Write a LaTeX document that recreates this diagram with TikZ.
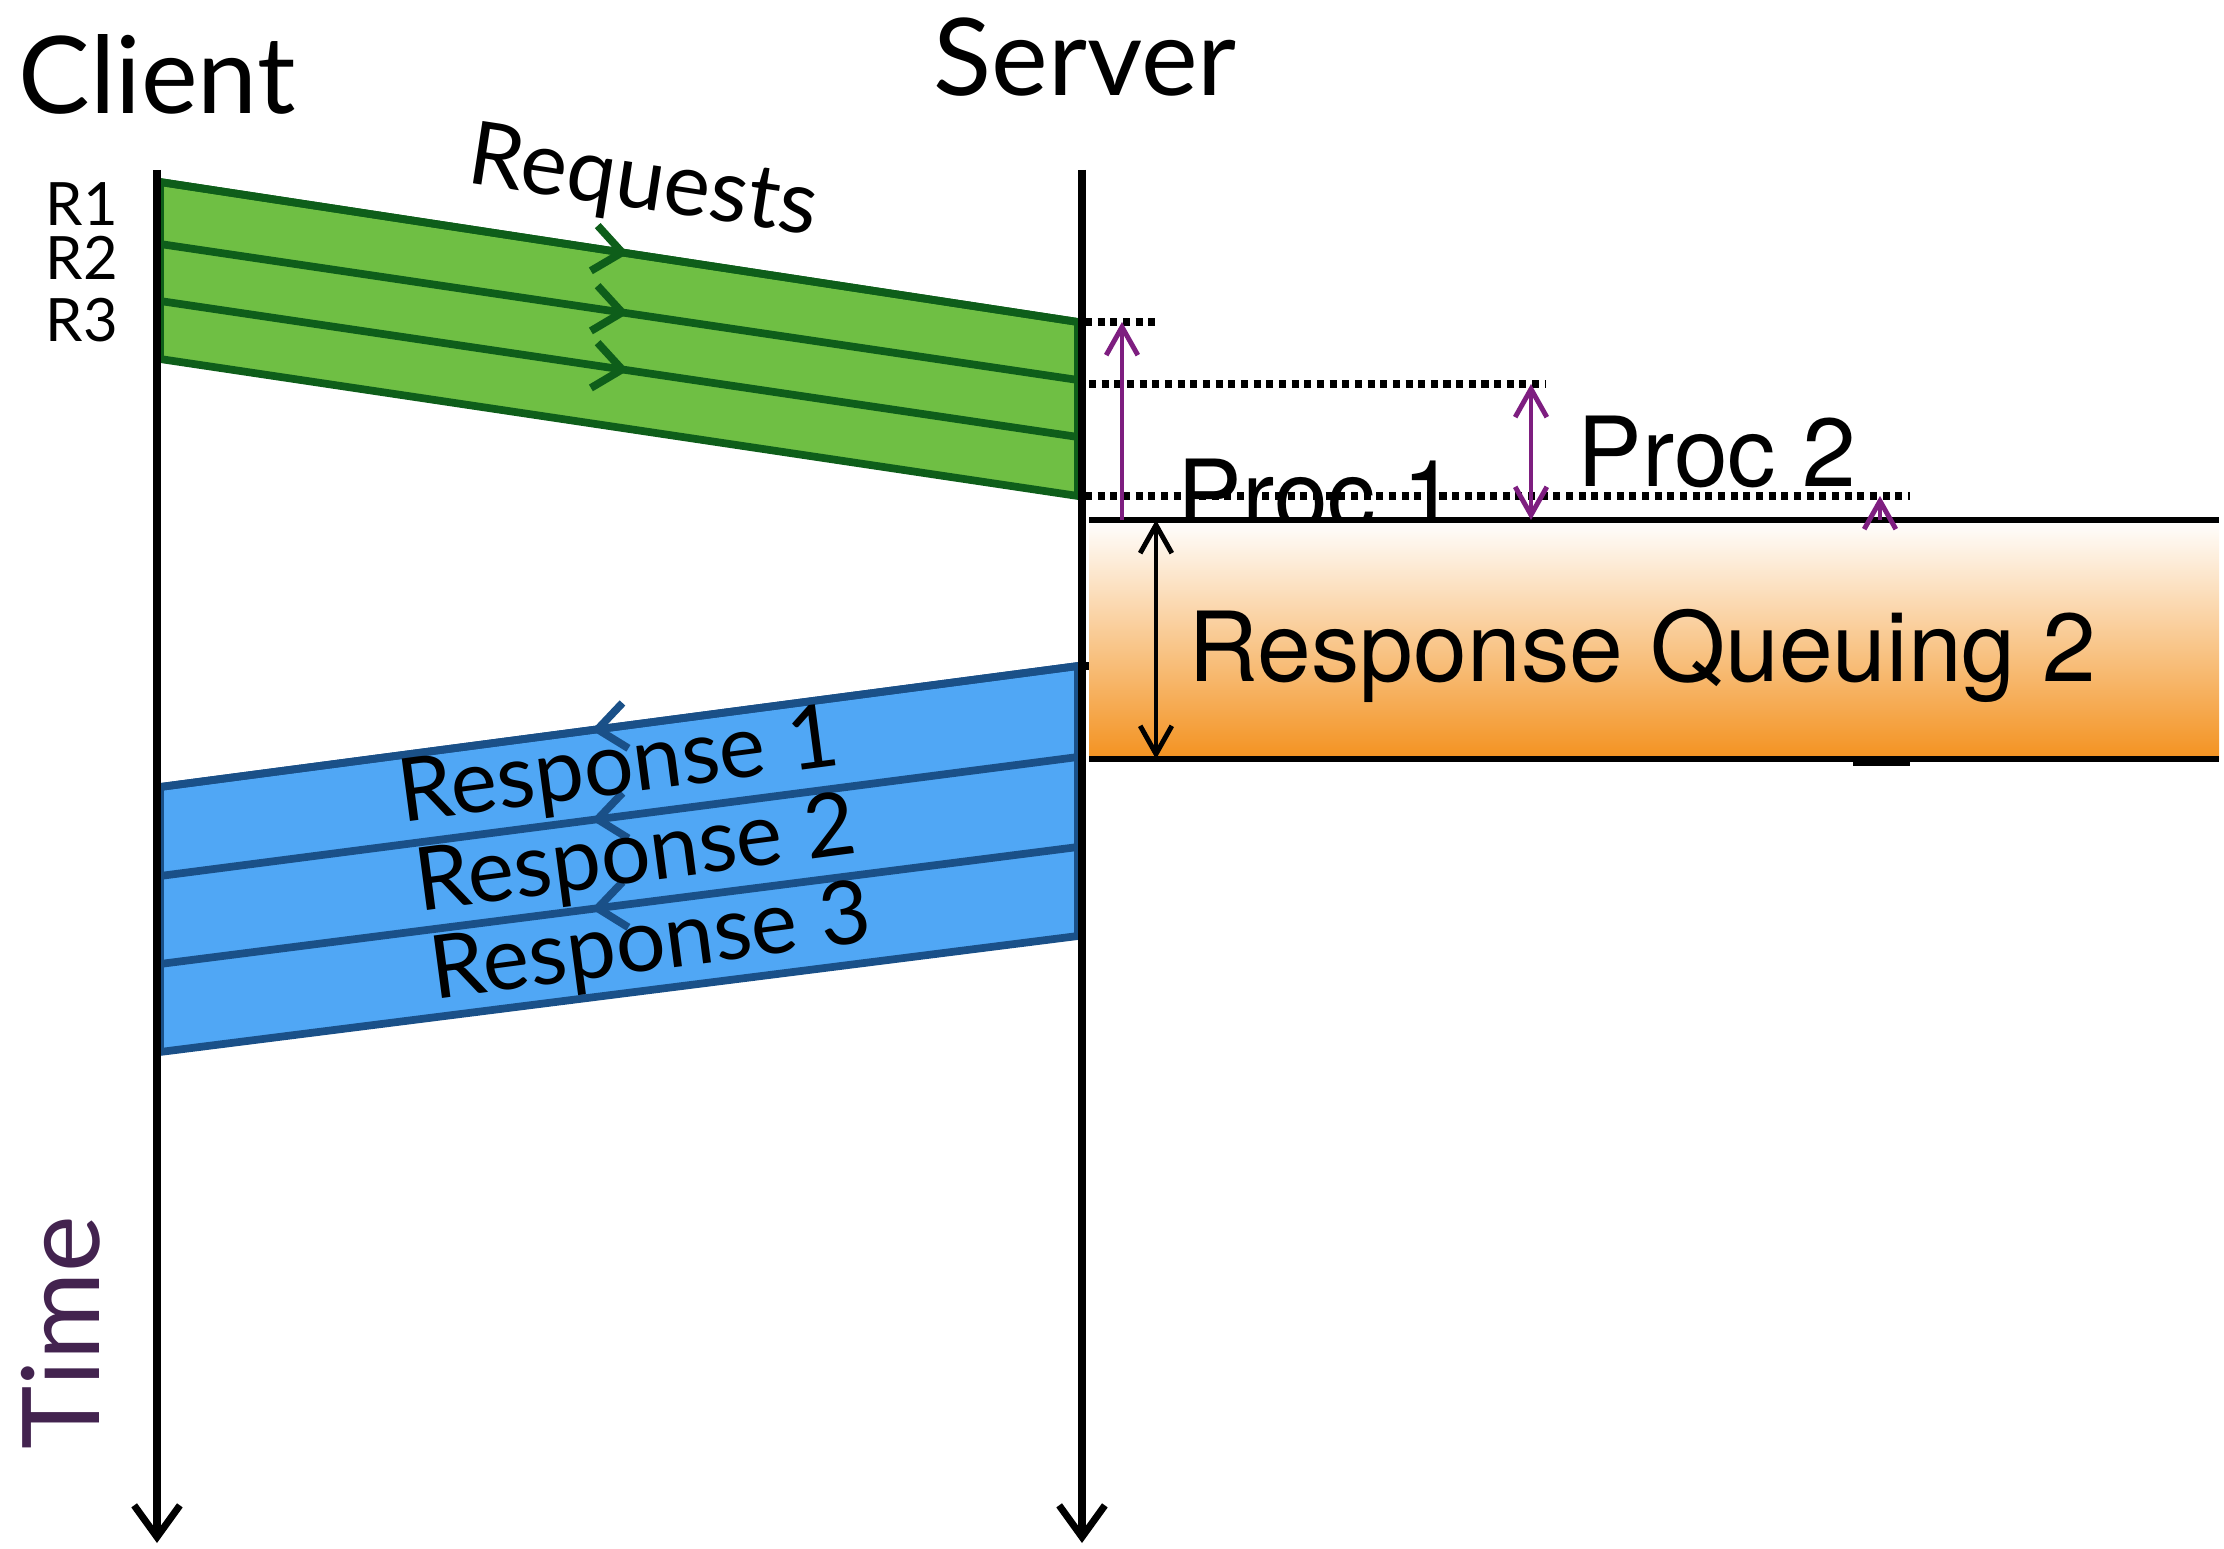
\documentclass[tikz,border=0pt]{standalone}
\usepackage{fontspec}
\setmainfont{Lato}
\newfontfamily\helv{TeX Gyre Heros}
\usetikzlibrary{arrows.meta,decorations.markings}
\definecolor{reqgreen}{RGB}{111,191,68}
\definecolor{reqdark}{RGB}{14,94,26}
\definecolor{respblue}{RGB}{80,167,245}
\definecolor{respdark}{RGB}{26,80,136}
\definecolor{procpurple}{RGB}{126,30,128}
\definecolor{queueorange}{RGB}{243,146,32}
\definecolor{timepurple}{RGB}{67,35,79}

\begin{document}
\begin{tikzpicture}[x=0.01cm, y=-0.01cm,
    lifeline/.style={line width=2pt, -{Straight Barb[length=9pt,width=13pt]}},
    reqband/.style={line width=2.2pt, draw=reqdark, fill=reqgreen},
    respband/.style={line width=2.2pt, draw=respdark, fill=respblue},
    reqline/.style={line width=2.2pt, draw=reqdark, postaction={decorate},
      decoration={markings, mark=at position 0.51 with {\arrow[reqdark]{Straight Barb[length=8pt,width=13pt]}}}},
    respline/.style={line width=2.2pt, draw=respdark, postaction={decorate},
      decoration={markings, mark=at position 0.53 with {\arrow[respdark]{Straight Barb[length=8pt,width=13pt]}}}},
    dots/.style={line width=2pt, dash pattern=on 2pt off 1.6pt},
    proc/.style={line width=1.4pt, draw=procpurple, -{Straight Barb[length=8pt,width=9pt]}},
    span/.style={line width=1.4pt, {Straight Barb[length=8pt,width=9pt]}-{Straight Barb[length=8pt,width=9pt]}},
    big/.style={inner sep=0pt, font=\fontsize{30.5}{36}\selectfont},
    small/.style={inner sep=0pt, font=\fontsize{17}{20}\selectfont},
    msglabel/.style={inner sep=0pt, font=\fontsize{25}{30}\selectfont},
    proclabel/.style={inner sep=0pt, font=\helv\fontsize{27.5}{32}\selectfont}
  ]
  \useasboundingbox (0,0) rectangle (2224,1549);

  \coordinate (ctop) at (157,170);
  \coordinate (cbot) at (157,1543);
  \coordinate (stop) at (1082,170);
  \coordinate (sbot) at (1082,1543);

  \foreach \n/\yl/\yr in {1/182/322, 2/244/380, 3/301/437, 4/359/496} {
    \coordinate (gl\n) at (160,\yl);
    \coordinate (gr\n) at (1078,\yr);
  }
  \foreach \n/\yl/\yr in {1/787/666, 2/876/757, 3/964/847, 4/1052/936} {
    \coordinate (bl\n) at (160,\yl);
    \coordinate (br\n) at (1078,\yr);
  }

  \filldraw[reqband] (gl1) -- (gr1) -- (gr4) -- (gl4) -- cycle;
  \foreach \n in {1,2,3}
    \draw[reqline] (gl\n) -- (gr\n);

  \filldraw[respband] (br1) -- (bl1) -- (bl4) -- (br4) -- cycle;
  \foreach \n in {1,2,3}
    \draw[respline] (br\n) -- (bl\n);

  \draw[lifeline] (ctop) -- (cbot);
  \draw[lifeline] (stop) -- (sbot);
  \draw[line width=2pt] (1082,666) -- (1090,666);

  \node[big] (client) at (157,74) {Client};
  \node[big] (server) at (1085,57) {Server};
  \node[small] (r1) at (82,204) {R1};
  \node[small] (r2) at (82,258) {R2};
  \node[small] (r3) at (82,320) {R3};
  \node[msglabel, rotate=-8.7] (requests) at (643,185) {Requests};
  \node[msglabel, rotate=7.5] (resp1) at (619,770) {Response 1};
  \node[msglabel, rotate=7.5] (resp2) at (636,858) {Response 2};
  \node[msglabel, rotate=7.5] (resp3) at (651,946) {Response 3};
  \node[big, text=timepurple, rotate=90] (time) at (61,1333) {Time};

  \coordinate (d1a) at (1085,322);
  \coordinate (d1b) at (1156,322);
  \coordinate (d2a) at (1089,384);
  \coordinate (d2b) at (1546,384);
  \coordinate (d3a) at (1085,496);
  \coordinate (d3b) at (1910,496);
  \draw[dots] (d1a) -- (d1b);
  \draw[dots] (d2a) -- (d2b);
  \draw[dots] (d3a) -- (d3b);

  \node[proclabel, anchor=base west] (proc1) at (1177,529) {Proc 1};
  \node[proclabel, anchor=base west] (proc2) at (1577,486) {Proc 2};

  \coordinate (qtl) at (1089,520);
  \coordinate (qtr) at (2219,520);
  \coordinate (qbl) at (1089,759);
  \coordinate (qbr) at (2219,759);
  \shade[top color=white, bottom color=queueorange] (qtl) rectangle (qbr);
  \draw[line width=1.7pt] (qtl) -- (qtr);
  \draw[line width=1.7pt] (qbl) -- (qbr);
  \draw[line width=2.2pt] (1853,762) -- (1910,762);
  \node[proclabel, anchor=base west] (queue) at (1188,681) {Response Queuing 2};

  \draw[span] (1156,759) -- (1156,520);
  \draw[proc] (1122,520) -- (1122,322);
  \draw[proc, {Straight Barb[length=8pt,width=9pt]}-{Straight Barb[length=8pt,width=9pt]}] (1531,520) -- (1531,384);
  \draw[proc] (1880,520) -- (1880,496);
\end{tikzpicture}
\end{document}
